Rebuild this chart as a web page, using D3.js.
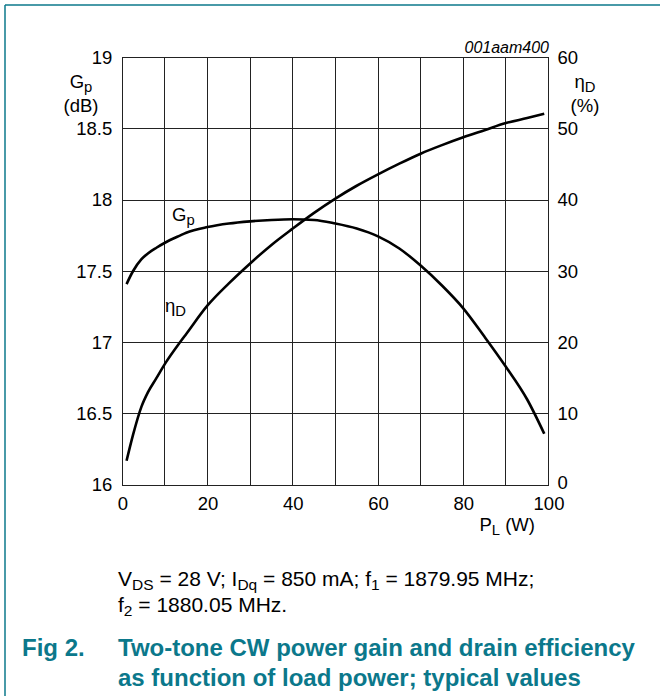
<!DOCTYPE html>
<html>
<head>
<meta charset="utf-8">
<script src="https://cdn.jsdelivr.net/npm/d3@7"></script>
<style>
  body { margin: 0; background: #fff; }
  svg text { font-family: "Liberation Sans", Arial, sans-serif; }
</style>
</head>
<body>
<svg id="chart" width="660" height="696"></svg>
<script>
// load power (W)
var loadPower = [1, 2.5, 4.5, 6, 8, 10, 13.5, 15, 20, 25, 30, 35, 40, 45, 50, 55, 60, 65, 70, 75, 80, 85, 90, 95, 99];
// power gain (dB), left axis
var gain = [17.41, 17.50, 17.585, 17.625, 17.665, 17.70, 17.75, 17.77, 17.81, 17.835, 17.85, 17.86, 17.865, 17.86, 17.835,
            17.80, 17.745, 17.66, 17.54, 17.40, 17.24, 17.04, 16.83, 16.60, 16.36];
// drain efficiency (%), right axis
var efficiency = [3.4, 7.0, 11.0, 13.0, 15.0, 17.0, 20.0, 21.2, 25.2, 28.3, 31.1, 33.7, 36.0, 38.2, 40.2,
                  42.0, 43.6, 45.1, 46.5, 47.7, 48.8, 49.8, 50.8, 51.5, 52.1];

var xTicks = [0, 20, 40, 60, 80, 100];
var gainTicks = [16, 16.5, 17, 17.5, 18, 18.5, 19];
var effTicks = [0, 10, 20, 30, 40, 50, 60];

var teal = "#0b788b";
var fs = 18.5;
var svg = d3.select("#chart");

// teal frame (only top and left edges show)
svg.append("line").attr("x1", 5).attr("y1", 5).attr("x2", 660).attr("y2", 5)
    .attr("stroke", teal).attr("stroke-width", 1.5);
svg.append("line").attr("x1", 5).attr("y1", 5).attr("x2", 5).attr("y2", 696)
    .attr("stroke", teal).attr("stroke-width", 1.5);

var x = d3.scaleLinear().domain([0, 100]).range([122.3, 548.5]),
    yL = d3.scaleLinear().domain([16, 19]).range([485, 57.5]),
    yR = d3.scaleLinear().domain([0, 60]).range([485, 57.5]);

// grid
var grid = svg.append("g").attr("stroke", "#222").attr("stroke-width", 1).attr("shape-rendering", "crispEdges");
grid.selectAll(".vx").data(d3.range(0, 101, 10)).enter().append("line")
    .attr("x1", x).attr("x2", x).attr("y1", yL(16)).attr("y2", yL(19));
grid.selectAll(".hy").data(gainTicks).enter().append("line")
    .attr("y1", yL).attr("y2", yL).attr("x1", x(0)).attr("x2", x(100));

// axes (just labels, the grid is the frame)
var axL = svg.append("g").attr("transform", "translate(" + x(0) + ",0)")
    .call(d3.axisLeft(yL).tickValues(gainTicks).tickSize(0).tickPadding(10).tickFormat(d3.format("")));
var axR = svg.append("g").attr("transform", "translate(" + x(100) + ",0)")
    .call(d3.axisRight(yR).tickValues(effTicks).tickSize(0).tickPadding(9));
var axB = svg.append("g").attr("transform", "translate(0," + yL(16) + ")")
    .call(d3.axisBottom(x).tickValues(xTicks).tickSize(0).tickPadding(12));
[axL, axR, axB].forEach(function (a) {
    a.select(".domain").remove();
    a.selectAll("text").attr("font-size", fs).attr("fill", "#000")
        .style("font-family", "'Liberation Sans', Arial, sans-serif");
});
axR.selectAll(".tick").filter(function (d) { return d === 0; }).select("text").attr("dy", "0.2em");

// curves
var gainLine = d3.line().curve(d3.curveMonotoneX)
    .x(function (d, i) { return x(loadPower[i]); })
    .y(function (d) { return yL(d); });
var effLine = d3.line().curve(d3.curveMonotoneX)
    .x(function (d, i) { return x(loadPower[i]); })
    .y(function (d) { return yR(d); });

svg.append("path").datum(gain).attr("d", gainLine)
    .attr("fill", "none").attr("stroke", "#000").attr("stroke-width", 2.6);
svg.append("path").datum(efficiency).attr("d", effLine)
    .attr("fill", "none").attr("stroke", "#000").attr("stroke-width", 2.6);

// helper for "main + subscript" labels
function subLabel(px, py, main, sub, size, anchor) {
    var t = svg.append("text").attr("x", px).attr("y", py)
        .attr("font-size", size).attr("text-anchor", anchor || "start");
    t.append("tspan").text(main);
    t.append("tspan").attr("dy", size * 0.2).attr("font-size", size * 0.8).text(sub);
    return t;
}

// in-plot curve labels
subLabel(172, 221, "G", "p", fs);
subLabel(165, 312, "η", "D", fs);

// axis titles
subLabel(81, 88, "G", "p", fs, "middle");
svg.append("text").attr("x", 81).attr("y", 112).attr("font-size", fs).attr("text-anchor", "middle").text("(dB)");
subLabel(585, 88, "η", "D", fs, "middle");
svg.append("text").attr("x", 585).attr("y", 112).attr("font-size", fs).attr("text-anchor", "middle").text("(%)");

var pl = subLabel(535, 531, "P", "L", fs, "end");
pl.append("tspan").attr("dy", -fs * 0.2).attr("font-size", fs).text(" (W)");

svg.append("text").attr("x", 549).attr("y", 53).attr("font-size", 16)
    .attr("font-style", "italic").attr("text-anchor", "end").text("001aam400");

// conditions note
var nfs = 21;
var n1 = svg.append("text").attr("x", 118).attr("y", 586).attr("font-size", nfs);
[["V", ""], ["DS", "s"], [" = 28 V; I", ""], ["Dq", "s"], [" = 850 mA; f", ""], ["1", "s"], [" = 1879.95 MHz;", ""]]
    .forEach(function (p, i, arr) {
        var prevSub = i > 0 && arr[i - 1][1] === "s";
        var ts = n1.append("tspan").text(p[0]);
        if (p[1] === "s") ts.attr("dy", 4).attr("font-size", 15.5);
        else if (prevSub) ts.attr("dy", -4);
    });
var n2 = svg.append("text").attr("x", 118).attr("y", 612).attr("font-size", nfs);
n2.append("tspan").text("f");
n2.append("tspan").attr("dy", 4).attr("font-size", 15.5).text("2");
n2.append("tspan").attr("dy", -4).text(" = 1880.05 MHz.");

// figure caption
var cap = svg.append("g").attr("fill", teal).attr("font-weight", "bold").attr("font-size", 24);
cap.append("text").attr("x", 22).attr("y", 656).attr("fill", teal).text("Fig 2.");
cap.append("text").attr("x", 118).attr("y", 656).attr("fill", teal).text("Two-tone CW power gain and drain efficiency");
cap.append("text").attr("x", 118).attr("y", 686).attr("fill", teal).text("as function of load power; typical values");
</script>
</body>
</html>
